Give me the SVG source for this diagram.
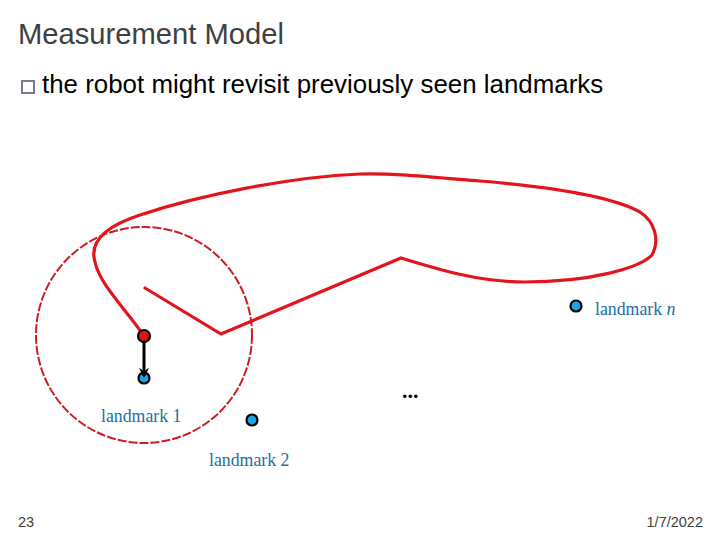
<svg xmlns="http://www.w3.org/2000/svg" width="720" height="540" viewBox="0 0 720 540">
<defs>
<style>
.title{font-family:"Liberation Sans",Arial,sans-serif;font-size:29.2px;fill:#404040}
.bullet{font-family:"Liberation Sans",Arial,sans-serif;font-size:25.9px;fill:#000}
.foot{font-family:"Liberation Sans",Arial,sans-serif;font-size:14.5px;fill:#404040}
.lbl{font-family:"Liberation Serif","Times New Roman",serif;font-size:17.8px;fill:#1f6e9e}
.lm{fill:#1ea3e3;stroke:#000;stroke-width:2.2}
.robot{fill:#e01414;stroke:#000;stroke-width:2.2}
.path{fill:none;stroke:#e3141b;stroke-width:3.2;stroke-linejoin:miter;stroke-linecap:round}
.range{fill:none;stroke:#cc1f22;stroke-width:2;stroke-dasharray:9 2}
</style>
<marker id="ah" viewBox="0 0 10 10" refX="8" refY="5" markerWidth="3.4" markerHeight="3.4" orient="auto" markerUnits="strokeWidth">
<path d="M0,0 L10,5 L0,10 L3,5 Z" fill="#000"/>
</marker>
</defs>
<rect width="720" height="540" fill="#fff"/>
<text class="title" x="18" y="44">Measurement Model</text>
<rect x="22" y="81" width="12" height="12" fill="none" stroke="#7a7a8c" stroke-width="2"/>
<text class="bullet" x="42" y="93">the robot might revisit previously seen landmarks</text>

<g id="connectors">
<circle id="sensor-range" class="range" cx="144" cy="335" r="108"/>
<path id="trajectory" class="path" d="M145,288 L221,334 L401,258 C440,270 480,282 525,282 C590,282 640,268 652,255 C660,240 655,222 640,212 C610,195 540,186 480,181 C420,176 390,173 360,174 C290,177 200,195 140,215 C100,228 90,245 95,262 C100,285 125,308 144,336"/>
</g>

<g id="landmark1">
<circle class="lm" cx="144" cy="378" r="5.5"/>
<text class="lbl" x="101" y="422">landmark 1</text>
</g>
<g id="landmark2">
<circle class="lm" cx="252" cy="420" r="5.5"/>
<text class="lbl" x="209" y="466">landmark 2</text>
</g>
<g id="landmarkn">
<circle class="lm" cx="576" cy="306" r="5.5"/>
<text class="lbl" x="595" y="315">landmark <tspan font-style="italic">n</tspan></text>
</g>
<g id="robot">
<circle class="robot" cx="144" cy="336" r="6"/>
</g>
<g id="measurement">
<line x1="144" y1="342" x2="144" y2="376" stroke="#000" stroke-width="3" marker-end="url(#ah)"/>
</g>
<g id="ellipsis">
<text x="402" y="398" font-family="Liberation Serif,'Times New Roman',serif" font-size="22" font-weight="bold" fill="#000">...</text>
</g>

<text class="foot" x="18" y="527">23</text>
<text class="foot" x="703" y="527" text-anchor="end">1/7/2022</text>
</svg>
